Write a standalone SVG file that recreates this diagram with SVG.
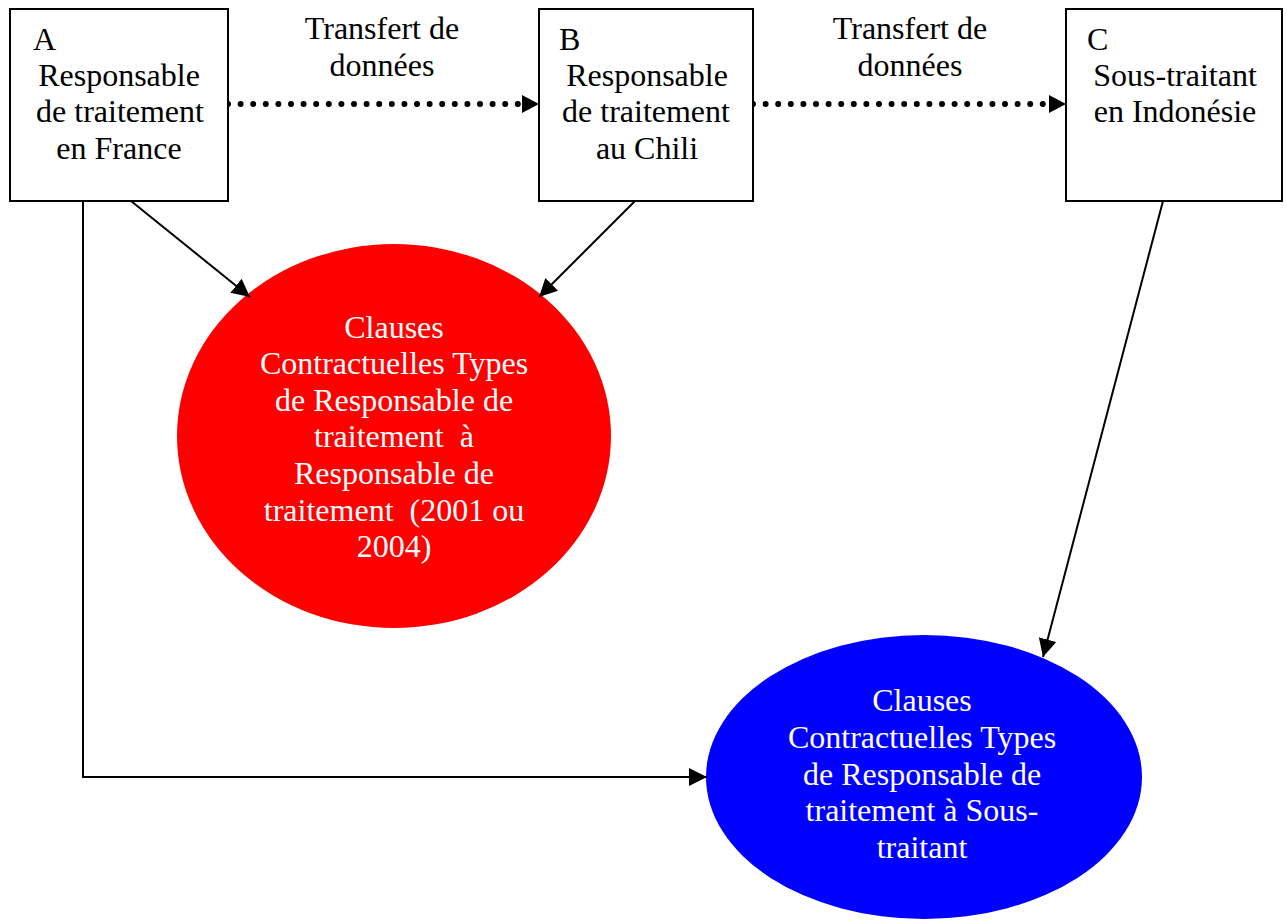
<svg xmlns="http://www.w3.org/2000/svg" width="1287" height="920" viewBox="0 0 1287 920">
  <style>
    text { font-family: "Liberation Serif", "Times New Roman", serif; font-size: 32px; fill: #000; }
    .c { text-anchor: middle; }
    .w { fill: #fff; }
    .box { fill: #fff; stroke: #000; stroke-width: 2; }
    .line { fill: none; stroke: #000; stroke-width: 2; }
    .dots { fill: none; stroke: #000; stroke-width: 6; stroke-linecap: round; stroke-dasharray: 0 12.6; }
  </style>
  <defs>
    <marker id="headBig" viewBox="0 0 10 10" refX="10" refY="5" markerWidth="18" markerHeight="20" markerUnits="userSpaceOnUse" orient="auto">
      <path d="M0,0 L10,5 L0,10 Z" fill="#000"/>
    </marker>
  </defs>

  <!-- ellipses -->
  <g id="cct-rr">
    <ellipse cx="394" cy="436" rx="217" ry="192" fill="#ff0000"/>
    <text class="c w" x="394" y="338">Clauses</text>
    <text class="c w" x="394" y="374">Contractuelles Types</text>
    <text class="c w" x="394" y="411">de Responsable de</text>
    <text class="c w" x="394" y="447" xml:space="preserve">traitement  à</text>
    <text class="c w" x="394" y="484">Responsable de</text>
    <text class="c w" x="394" y="521" xml:space="preserve">traitement  (2001 ou</text>
    <text class="c w" x="394" y="557">2004)</text>
  </g>
  <g id="cct-rst">
    <ellipse cx="924" cy="777" rx="218" ry="142" fill="#0000ff"/>
    <text class="c w" x="922" y="711">Clauses</text>
    <text class="c w" x="922" y="748">Contractuelles Types</text>
    <text class="c w" x="922" y="785">de Responsable de</text>
    <text class="c w" x="922" y="821">traitement à Sous-</text>
    <text class="c w" x="922" y="858">traitant</text>
  </g>

  <!-- connectors -->
  <g id="connectors">
    <path class="dots" d="M228,104 H522"/>
    <path d="M522,95 L539,104 L522,113 Z" fill="#000"/>
    <path class="dots" d="M753,104 H1050"/>
    <path d="M1049,95 L1066,104 L1049,113 Z" fill="#000"/>
    <path class="line" d="M131,201 L250,297" marker-end="url(#headBig)"/>
    <path class="line" d="M635,201 L539,297" marker-end="url(#headBig)"/>
    <path class="line" d="M1163,201 L1043,657" marker-end="url(#headBig)"/>
    <path class="line" d="M83,201 V777 H707" marker-end="url(#headBig)"/>
  </g>

  <!-- edge labels -->
  <g id="labels">
    <text class="c" x="382" y="39">Transfert de</text>
    <text class="c" x="382" y="76">données</text>
    <text class="c" x="910" y="39">Transfert de</text>
    <text class="c" x="910" y="76">données</text>
  </g>

  <!-- boxes -->
  <g id="node-a">
    <rect class="box" x="10" y="9" width="218" height="192"/>
    <text x="33" y="50">A</text>
    <text class="c" x="119" y="86">Responsable</text>
    <text class="c" x="120" y="122">de traitement</text>
    <text class="c" x="119" y="159">en France</text>
  </g>
  <g id="node-b">
    <rect class="box" x="539" y="9" width="214" height="192"/>
    <text x="559" y="50">B</text>
    <text class="c" x="647" y="86">Responsable</text>
    <text class="c" x="646" y="122">de traitement</text>
    <text class="c" x="647" y="159">au Chili</text>
  </g>
  <g id="node-c">
    <rect class="box" x="1066" y="9" width="216" height="192"/>
    <text x="1087" y="50">C</text>
    <text class="c" x="1175" y="86">Sous-traitant</text>
    <text class="c" x="1175" y="122">en Indonésie</text>
  </g>
</svg>
